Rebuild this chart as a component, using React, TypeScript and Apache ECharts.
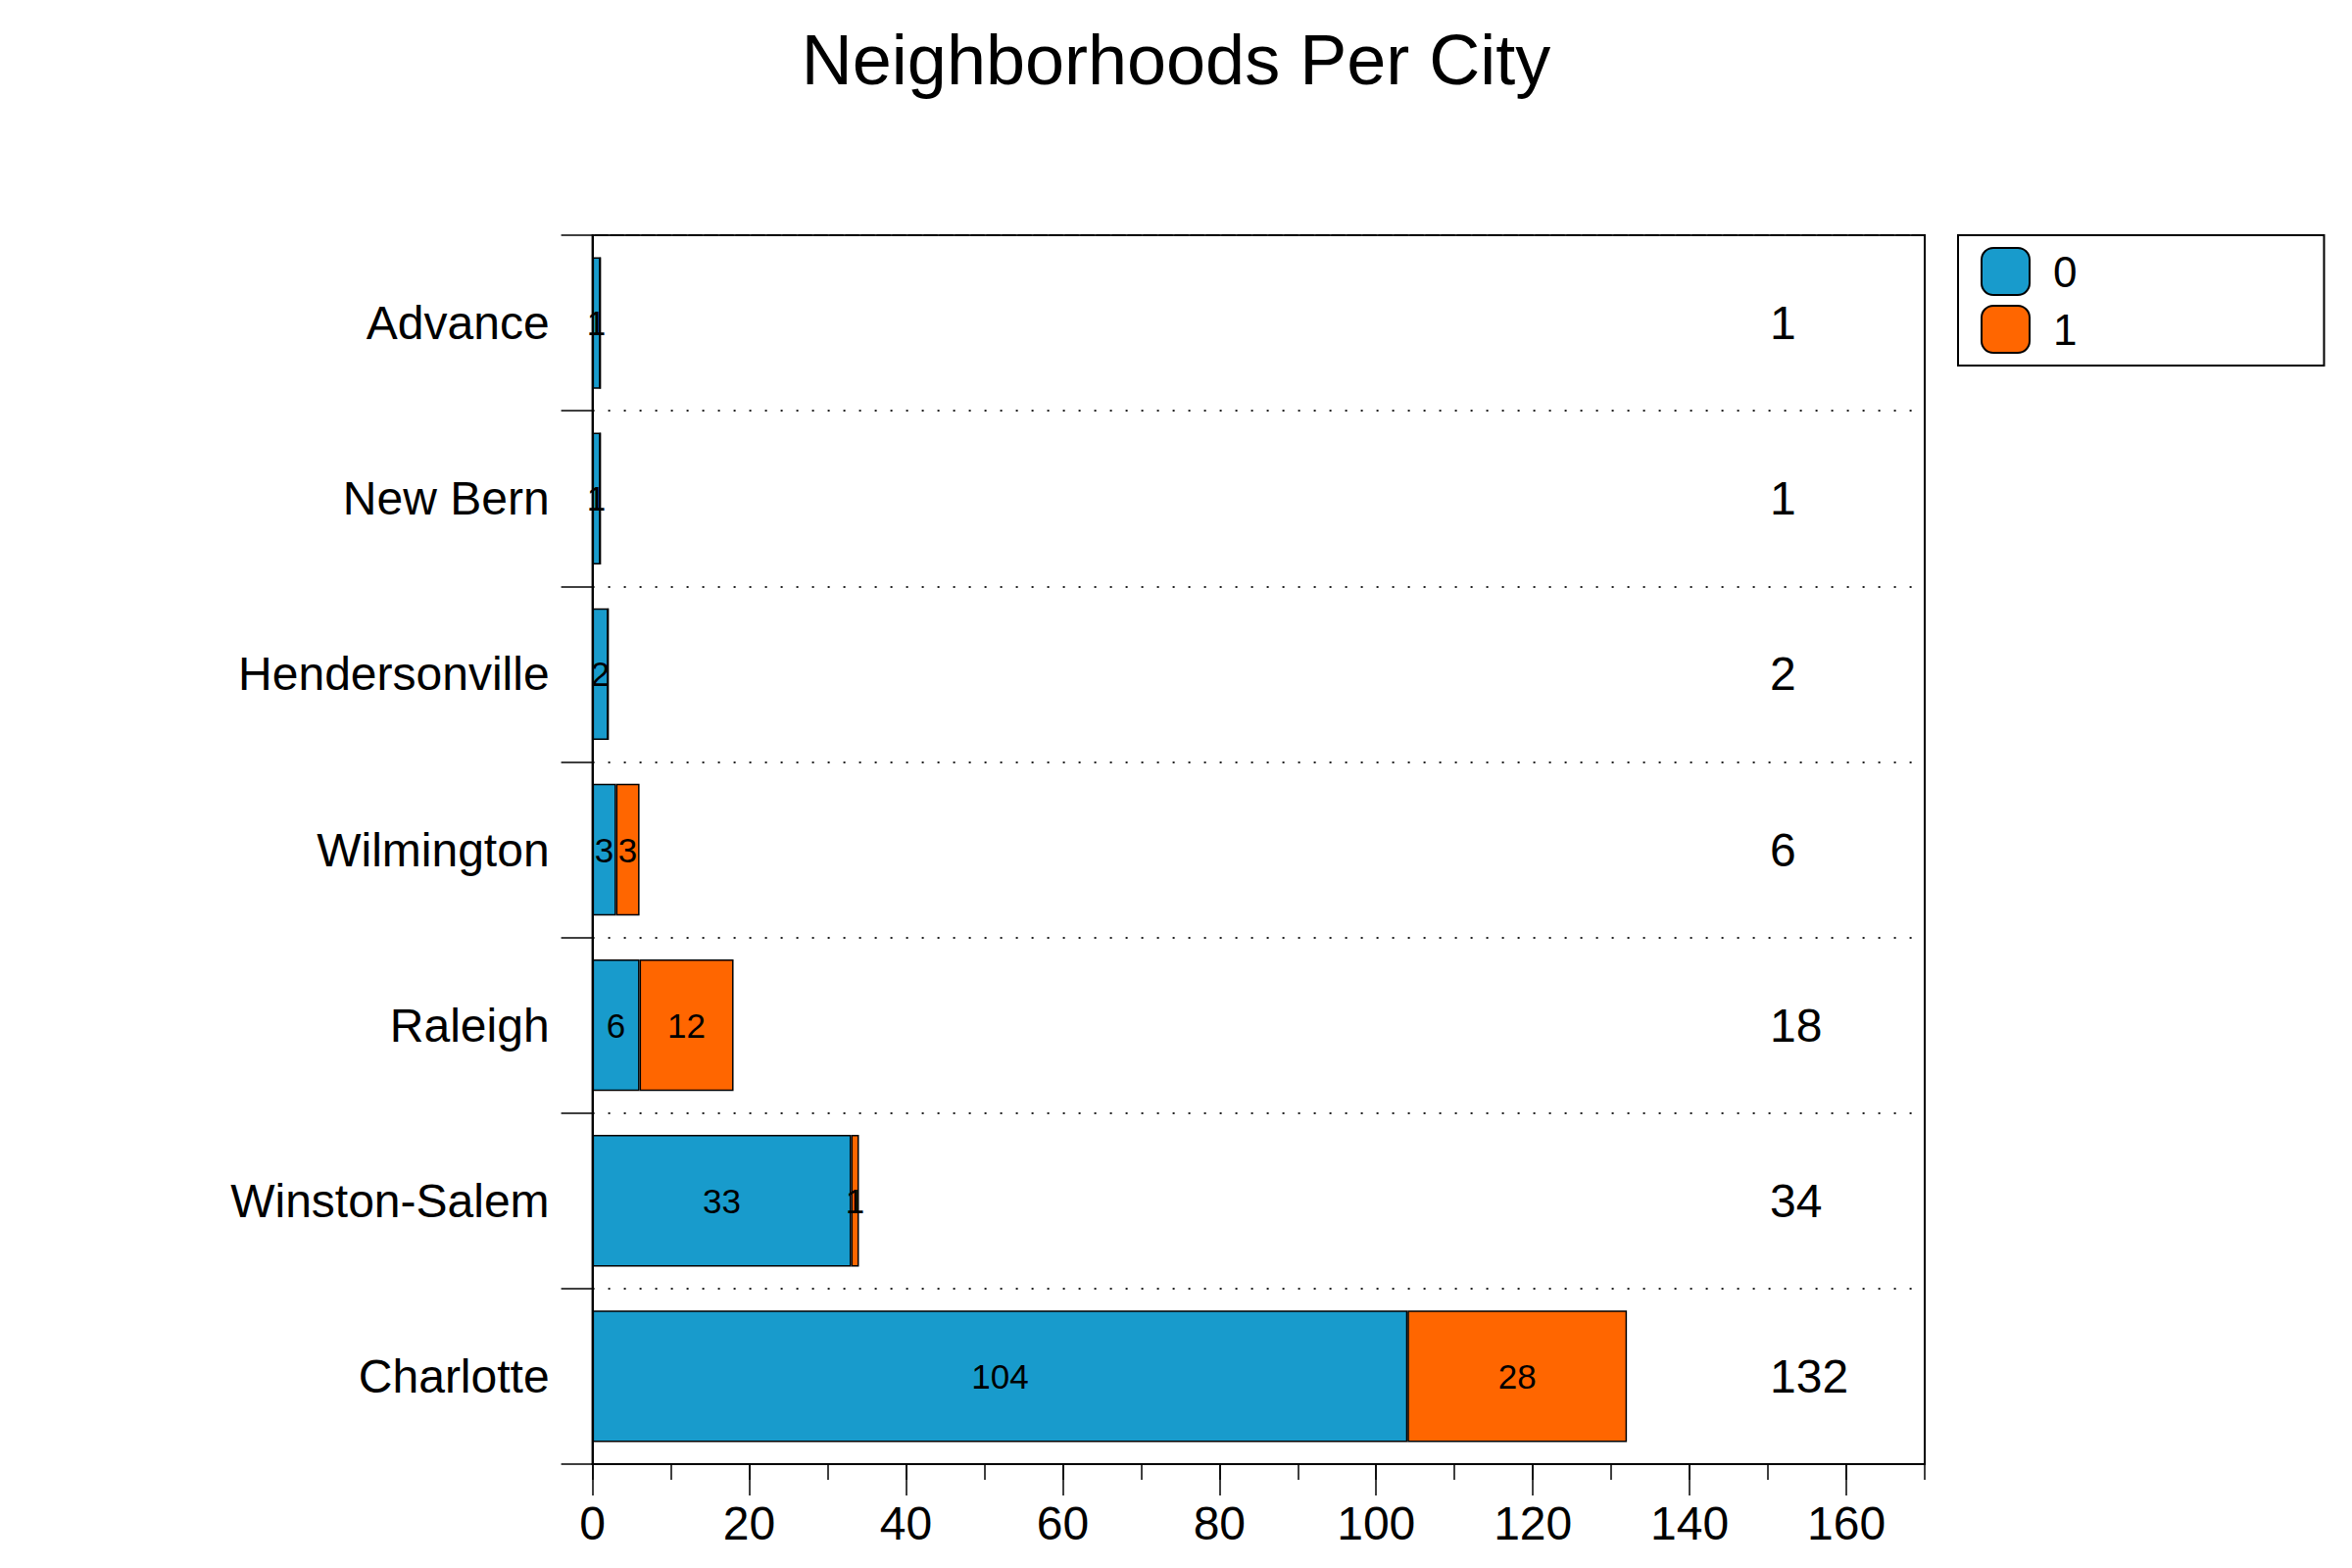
import React, { useEffect, useRef } from "react";
import * as echarts from "echarts";

const cities = ["Advance", "New Bern", "Hendersonville", "Wilmington", "Raleigh", "Winston-Salem", "Charlotte"];
const series0 = [1, 1, 2, 3, 6, 33, 104];
const series1 = [0, 0, 0, 3, 12, 1, 28];
const seriesNames = ["0", "1"];
const xTicks = { min: 0, max: 170, majorMax: 160, major: 20, minor: 10 };
const totalPosition = 150;

const FONT = "'Liberation Sans', Arial, Helvetica, sans-serif";

export default function App() {
  const ref = useRef<HTMLDivElement>(null);
  useEffect(() => {
    if (!ref.current) return;
    const chart = echarts.init(ref.current, null, { renderer: "svg" });
    const totals = series0.map((v, i) => v + series1[i]);
    const gridLeft = 604.6;
    const gridTop = 240;
    const gridW = 1359.4;
    const gridH = 1254;
    const majorW = (gridW * xTicks.majorMax) / xTicks.max;
    const barLabel = {
      show: true,
      position: "inside",
      color: "#000",
      fontSize: 35,
      fontFamily: FONT,
      formatter: (p: any) => (p.value ? String(p.value) : ""),
    };
    chart.setOption({
      animation: false,
      backgroundColor: "#fff",
      textStyle: { fontFamily: FONT },
      title: {
        text: "Neighborhoods Per City",
        left: "center",
        top: 20,
        textStyle: { fontSize: 72, fontWeight: "normal", color: "#000", fontFamily: FONT },
      },
      legend: {
        data: seriesNames,
        orient: "vertical",
        left: 1998,
        top: 240,
        padding: [12, 252, 12, 23],
        itemWidth: 49,
        itemHeight: 48,
        itemGap: 9,
        icon: "roundRect",
        borderColor: "#000",
        borderWidth: 2,
        backgroundColor: "#fff",
        textStyle: { fontSize: 44, color: "#000", fontFamily: FONT, padding: [0, 0, 0, 19] },
      },
      grid: [
        {
          left: gridLeft,
          top: gridTop,
          width: gridW,
          height: gridH,
          show: true,
          borderColor: "#000",
          borderWidth: 2,
          backgroundColor: "transparent",
        },
        { left: gridLeft, top: gridTop, width: majorW, height: gridH, show: false },
      ],
      xAxis: [
        {
          type: "value",
          gridIndex: 0,
          min: xTicks.min,
          max: xTicks.max,
          interval: xTicks.minor,
          axisLine: { show: true, lineStyle: { color: "#000", width: 2 } },
          axisTick: { show: true, length: 16, lineStyle: { color: "#000", width: 1.5 } },
          axisLabel: { show: false },
          splitLine: { show: false },
        },
        {
          type: "value",
          gridIndex: 1,
          min: xTicks.min,
          max: xTicks.majorMax,
          interval: xTicks.major,
          axisLine: { show: false },
          axisTick: { show: true, length: 32, lineStyle: { color: "#000", width: 1.5 } },
          axisLabel: { show: true, fontSize: 48, color: "#000", margin: 36, fontFamily: FONT },
          splitLine: { show: false },
        },
      ],
      yAxis: [
        {
          type: "category",
          gridIndex: 0,
          data: cities,
          inverse: true,
          axisLine: { show: true, lineStyle: { color: "#000", width: 2 } },
          axisTick: { show: true, length: 32, lineStyle: { color: "#000", width: 1.5 } },
          axisLabel: { fontSize: 48, color: "#000", margin: 44, fontFamily: FONT },
          splitLine: { show: true, lineStyle: { color: "#222", width: 2, type: [2, 14] } },
        },
        { type: "value", gridIndex: 1, show: false, min: 0, max: 1 },
      ],
      series: [
        {
          name: seriesNames[0],
          type: "bar",
          stack: "total",
          xAxisIndex: 0,
          yAxisIndex: 0,
          barCategoryGap: "25%",
          data: series0,
          itemStyle: { color: "#189bcc", borderColor: "#000", borderWidth: 1.5 },
          label: barLabel,
        },
        {
          name: seriesNames[1],
          type: "bar",
          stack: "total",
          xAxisIndex: 0,
          yAxisIndex: 0,
          barCategoryGap: "25%",
          data: series1,
          itemStyle: { color: "#ff6600", borderColor: "#000", borderWidth: 1.5 },
          label: barLabel,
        },
        {
          name: "totals",
          type: "scatter",
          xAxisIndex: 0,
          yAxisIndex: 0,
          symbolSize: 0,
          itemStyle: { opacity: 1 },
          data: totals.map((t, i) => [totalPosition, i, t]),
          label: {
            show: true,
            position: "right",
            distance: 2,
            fontSize: 48,
            color: "#000",
            opacity: 1,
            fontFamily: FONT,
            formatter: (p: any) => String(p.value[2]),
          },
          silent: true,
        },
      ],
    });
    return () => chart.dispose();
  }, []);
  return (
    <div
      ref={ref}
      style={{ position: "fixed", left: 0, top: 0, width: 2400, height: 1600, background: "#fff" }}
    />
  );
}
